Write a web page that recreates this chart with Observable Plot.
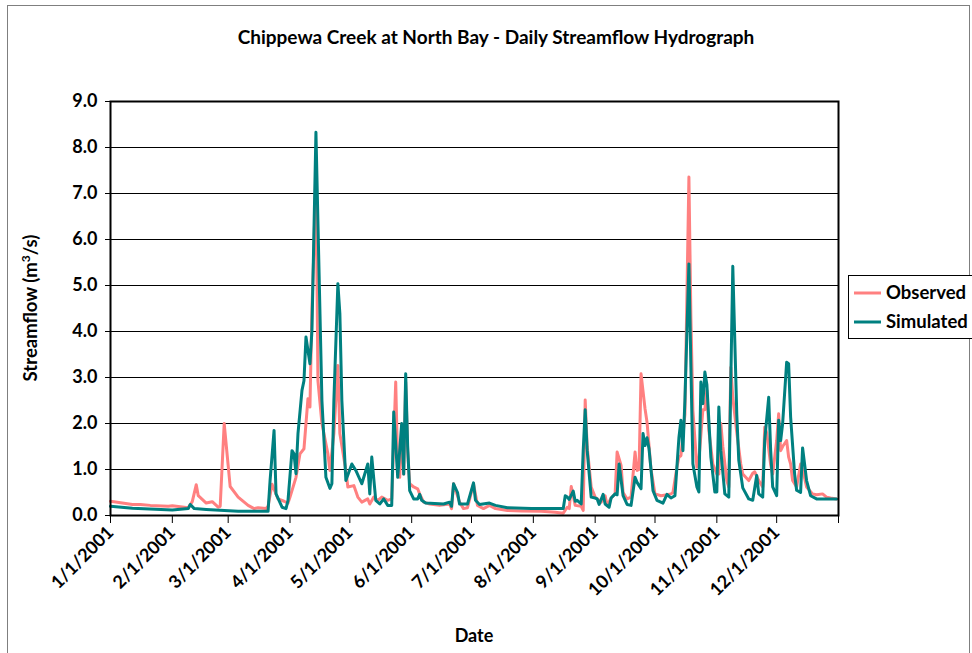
<!DOCTYPE html>
<html>
<head>
<meta charset="utf-8">
<script src="https://cdn.jsdelivr.net/npm/d3@7"></script>
<script src="https://cdn.jsdelivr.net/npm/@observablehq/plot@0.6"></script>
<style>
  html, body { margin: 0; padding: 0; background: #fff; }
  #chart svg { display: block; }
</style>
</head>
<body>
<div id="chart"></div>
<script>
// ---- Data (day-of-year index from 1/1/2001, streamflow m3/s) ----
const obsDay = [0,11,15,20,29,31,39,41,43,44,48,51,54,55,57,60,64,69,72,74,78,79,81,84,87,89,90,93,95,97,99,100,101,102,103,104,106,109,110,112,114,115,118,119,122,124,126,129,130,132,134,136,139,141,143,144,145,146,147,148,149,150,152,154,155,157,160,165,170,171,172,175,177,179,182,184,187,190,193,199,206,216,223,227,229,230,231,233,236,237,238,239,241,243,246,248,249,251,253,254,256,257,259,261,263,264,265,266,268,269,271,273,276,279,281,282,284,285,286,288,290,291,292,294,295,297,298,299,300,302,304,305,306,307,309,310,311,312,314,316,317,320,322,323,325,327,328,329,331,332,334,335,336,337,339,340,341,342,344,346,347,349,352,354,357,359,361,364];
const obsFlow = [0.31,0.24,0.24,0.22,0.2,0.21,0.17,0.3,0.67,0.43,0.27,0.3,0.18,0.2,2.0,0.63,0.4,0.22,0.15,0.17,0.15,0.2,0.68,0.36,0.31,0.27,0.4,0.83,1.34,1.45,2.54,2.36,4.5,5.8,7.6,2.93,2.0,1.34,0.98,1.78,3.26,1.78,0.98,0.62,0.65,0.4,0.29,0.36,0.25,0.4,0.33,0.4,0.33,0.36,2.9,1.05,0.83,1.99,0.9,2.9,1.4,0.69,0.62,0.58,0.47,0.29,0.25,0.22,0.25,0.15,0.69,0.29,0.15,0.17,0.69,0.22,0.15,0.22,0.15,0.11,0.1,0.09,0.07,0.05,0.18,0.15,0.63,0.22,0.2,0.11,2.51,1.49,0.62,0.4,0.29,0.43,0.22,0.38,0.47,1.38,1.09,0.5,0.36,0.4,1.38,0.98,1.0,3.08,2.32,2.03,1.0,0.47,0.43,0.45,0.47,0.5,1.05,1.27,1.3,2.2,7.36,4.31,2.28,1.05,1.2,2.3,2.3,2.72,1.85,1.12,0.9,0.9,2.0,1.5,0.76,0.62,3.22,2.57,1.8,1.12,0.9,0.76,0.92,0.95,0.76,0.62,1.92,1.8,1.1,0.9,1.63,2.21,1.41,1.5,1.63,1.27,1.12,0.76,0.62,1.12,1.0,0.62,0.47,0.45,0.47,0.4,0.38,0.36];

const simDay = [0,11,31,39,40,42,48,64,79,80,82,83,86,88,89,91,92,93,94,96,97,98,100,101,103,106,108,110,111,112,114,115,116,118,121,123,126,129,130,131,133,135,137,139,141,142,144,146,147,148,149,150,152,154,155,156,158,167,170,171,172,174,175,179,182,183,185,190,193,199,211,227,228,229,230,232,233,234,236,237,238,239,241,243,244,245,247,248,250,251,253,254,255,257,259,261,263,264,266,267,268,269,270,272,274,277,279,281,283,285,286,287,288,290,291,292,294,295,296,297,298,299,301,303,304,305,306,308,310,312,314,315,317,320,322,324,325,327,328,330,331,332,334,335,336,337,339,340,341,343,344,346,347,349,351,354,364];
const simFlow = [0.2,0.16,0.12,0.15,0.24,0.15,0.13,0.09,0.09,0.76,1.85,0.47,0.18,0.15,0.33,1.41,1.34,0.91,1.78,2.72,2.93,3.88,3.3,4.02,8.33,2.5,0.83,0.59,0.69,2.5,5.04,4.39,2.5,0.76,1.12,0.98,0.69,1.12,0.47,1.27,0.33,0.25,0.36,0.22,0.22,2.25,0.83,2.0,0.9,3.08,1.49,0.54,0.36,0.36,0.46,0.33,0.27,0.25,0.29,0.2,0.69,0.5,0.25,0.25,0.71,0.33,0.24,0.27,0.22,0.17,0.15,0.15,0.43,0.4,0.35,0.53,0.31,0.33,0.25,1.41,2.3,1.41,0.4,0.38,0.36,0.24,0.46,0.25,0.18,0.38,0.47,0.45,1.12,0.43,0.24,0.22,0.83,0.72,0.58,1.78,1.52,1.69,1.45,0.54,0.33,0.27,0.46,0.38,0.43,1.7,2.07,1.41,2.5,5.47,3.22,1.12,0.62,0.51,2.9,2.43,3.12,2.85,1.27,0.51,0.51,2.36,1.41,0.47,0.4,5.42,2.2,1.2,0.6,0.36,0.33,0.87,0.47,0.4,1.63,2.57,1.41,0.62,0.43,2.07,1.63,2.0,3.33,3.3,2.14,0.9,0.55,0.5,1.47,0.76,0.43,0.36,0.36];

const seriesNames = ["Observed", "Simulated"];
const seriesColors = ["#FF8080", "#008080"];
const yTicks = [0,1,2,3,4,5,6,7,8,9];

const start = new Date(Date.UTC(2001, 0, 1));
const end = new Date(Date.UTC(2002, 0, 1));
const toRows = (days, flows) => days.map((d, i) => ({date: d3.utcDay.offset(start, d), flow: flows[i]}));
const obsRows = toRows(obsDay, obsFlow);
const simRows = toRows(simDay, simFlow);
const monthTicks = d3.utcMonth.range(start, d3.utcDay.offset(end, 1));

const W = 972, H = 653;
const mL = 110, mR = 134, mT = 101, mB = 138;
const FONT = "Lato, 'Open Sans', sans-serif";
const FS = 18;

const chart = Plot.plot({
  width: W, height: H,
  marginLeft: mL, marginRight: mR, marginTop: mT, marginBottom: mB,
  style: {fontFamily: FONT, fontSize: FS + "px", fontWeight: "bold", background: "#fff", color: "#000"},
  x: {type: "utc", domain: [start, end]},
  y: {domain: [0, 9]},
  marks: [
    Plot.ruleY(yTicks.slice(1), {stroke: "#000", strokeWidth: 1}),
    Plot.axisY({ticks: yTicks, tickFormat: d => d.toFixed(1), tickSize: 5, tickPadding: 8, label: null, fontSize: FS, fontWeight: "bold"}),
    Plot.axisX({ticks: monthTicks, tickFormat: d => d.getUTCFullYear() === 2002 ? "" : `${d.getUTCMonth() + 1}/${d.getUTCDate()}/${d.getUTCFullYear()}`,
      tickSize: 8, tickPadding: 6, tickRotate: -45, label: null, fontSize: FS, fontWeight: "bold"}),
    Plot.line(obsRows, {x: "date", y: "flow", stroke: seriesColors[0], strokeWidth: 3, strokeLinejoin: "round"}),
    Plot.line(simRows, {x: "date", y: "flow", stroke: seriesColors[1], strokeWidth: 3, strokeLinejoin: "round"}),
    Plot.frame({stroke: "#000", strokeWidth: 2})
  ]
});

const svg = d3.select(chart);
// outer chart border
svg.insert("rect", ":first-child").attr("x", 7.5).attr("y", 5.5).attr("width", 962).attr("height", 700)
  .attr("fill", "#fff").attr("stroke", "#7f7f7f").attr("stroke-width", 1);
// title
svg.append("text").attr("x", 496).attr("y", 44).attr("text-anchor", "middle")
  .attr("font-family", FONT).attr("font-size", 19).attr("font-weight", "bold")
  .text("Chippewa Creek at North Bay - Daily Streamflow Hydrograph");
// axis titles
svg.append("text").attr("x", 474).attr("y", 642).attr("text-anchor", "middle")
  .attr("font-family", FONT).attr("font-size", 18).attr("font-weight", "bold").text("Date");
const yl = svg.append("text").attr("transform", "translate(37,308) rotate(-90)").attr("text-anchor", "middle")
  .attr("font-family", FONT).attr("font-size", 18.5).attr("font-weight", "bold");
yl.append("tspan").text("Streamflow (m");
yl.append("tspan").attr("dy", -7).attr("font-size", 12).text("3");
yl.append("tspan").attr("dy", 7).text("/s)");
// legend
const lg = svg.append("g");
lg.append("rect").attr("x", 848.5).attr("y", 275.5).attr("width", 140).attr("height", 63)
  .attr("fill", "#fff").attr("stroke", "#000").attr("stroke-width", 1);
seriesNames.forEach((name, i) => {
  const y = 293 + i * 29;
  lg.append("line").attr("x1", 854).attr("x2", 881).attr("y1", y).attr("y2", y)
    .attr("stroke", seriesColors[i]).attr("stroke-width", 3);
  lg.append("text").attr("x", 886).attr("y", y + 6).attr("text-anchor", "start").attr("font-family", FONT)
    .attr("font-size", 18.5).attr("font-weight", "bold").text(name);
});

document.getElementById("chart").appendChild(chart);
</script>
</body>
</html>
